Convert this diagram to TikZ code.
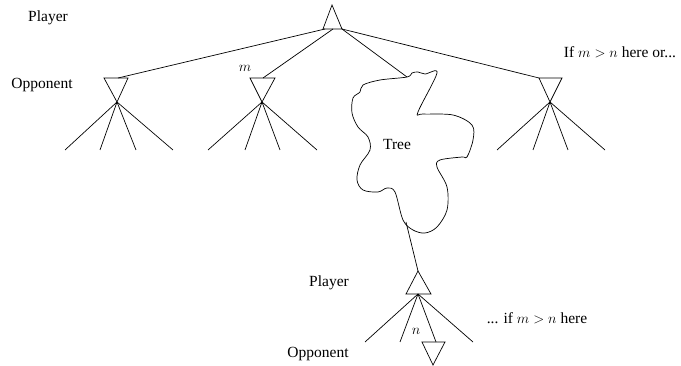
\documentclass[tikz,border=0pt]{standalone}
\usepackage{fontspec}
\setmainfont{Liberation Serif}
\begin{document}
\begin{tikzpicture}[x=1pt,y=-1pt,line width=0.7pt,
  lbl/.style={font=\fontsize{15.5}{18}\selectfont,inner sep=0pt},
  edge/.style={draw,line width=0.7pt}]
\useasboundingbox (0,0) rectangle (681,366);
% top player triangle
\coordinate (pA) at (332,5);
\coordinate (pL) at (323,29);
\coordinate (pR) at (342,29);
\draw (pA) -- (pL) -- (pR) -- cycle;
% opponent triangles (inverted)
\coordinate (o1L) at (104,78); \coordinate (o1R) at (128,78); \coordinate (o1A) at (117,102);
\coordinate (o2L) at (250,78); \coordinate (o2R) at (275,78); \coordinate (o2A) at (262,102);
\coordinate (o3L) at (539,78); \coordinate (o3R) at (562,78); \coordinate (o3A) at (550,102);
\draw (o1L) -- (o1R) -- (o1A) -- cycle;
\draw (o2L) -- (o2R) -- (o2A) -- cycle;
\draw (o3L) -- (o3R) -- (o3A) -- cycle;
% edges from top
\coordinate (t1) at (118,78);
\coordinate (t2) at (263,78);
\coordinate (t3) at (407,77);
\draw[edge] (325,29) -- (t1);
\draw[edge] (333,29) -- (t2);
\draw[edge] (pR) -- (t3);
\draw[edge] (pR) -- (o3L);
% children
\foreach \x [count=\i] in {65,100,136,173} {\coordinate (c1\i) at (\x,150); \draw[edge] (o1A) -- (c1\i);}
\foreach \x [count=\i] in {208,245,280,317} {\coordinate (c2\i) at (\x,150); \draw[edge] (o2A) -- (c2\i);}
\foreach \x [count=\i] in {497,533,568,605} {\coordinate (c3\i) at (\x,150); \draw[edge] (o3A) -- (c3\i);}
% tree blob
\draw[line width=0.7pt] plot[smooth cycle,tension=0.55] coordinates {
(407,77) (412,73) (418,72) (425,74) (437,73) (418,112) (423,114) (453,115)
(472,125) (473,140) (467,157) (462,157) (440,160) (437,167) (447,187) (447,210)
(437,227) (425,233) (413,230) (403,220) (395,192) (387,188) (378,192) (363,190)
(357,180) (360,165) (370,150) (368,137) (358,127) (352,113) (353,98) (360,92)
(363,85) (380,80)};
\node[lbl] (tree) at (397,145) {Tree};
% lower player
\coordinate (tb) at (406,222);
\coordinate (qA) at (418,271); \coordinate (qL) at (406,294); \coordinate (qR) at (431,294);
\coordinate (qC) at (418,294);
\draw (qA) -- (qL) -- (qR) -- cycle;
\draw[edge] (tb) -- (qA);
\coordinate (d1) at (365,342); \coordinate (d2) at (400,342); \coordinate (d3) at (436,342); \coordinate (d4) at (473,342);
\foreach \i in {1,2,3,4} {\draw[edge] (qC) -- (d\i);}
% lower opponent
\coordinate (rL) at (422,342); \coordinate (rR) at (445,342); \coordinate (rA) at (433,365);
\draw (rL) -- (rR) -- (rA) -- cycle;
% labels
\node[lbl] (pl1) at (48,18) {Player};
\node[lbl] (op1) at (42,85) {Opponent};
\node[lbl] (m) at (245,68) {$m$};
\node[lbl] (if1) at (620,52) {If $m>n$ here or...};
\node[lbl] (pl2) at (329,283) {Player};
\node[lbl] (op2) at (318,354) {Opponent};
\node[lbl] (n) at (416,331) {$n$};
\node[lbl] (if2) at (537,318) {... if $m>n$ here};
\end{tikzpicture}
\end{document}
